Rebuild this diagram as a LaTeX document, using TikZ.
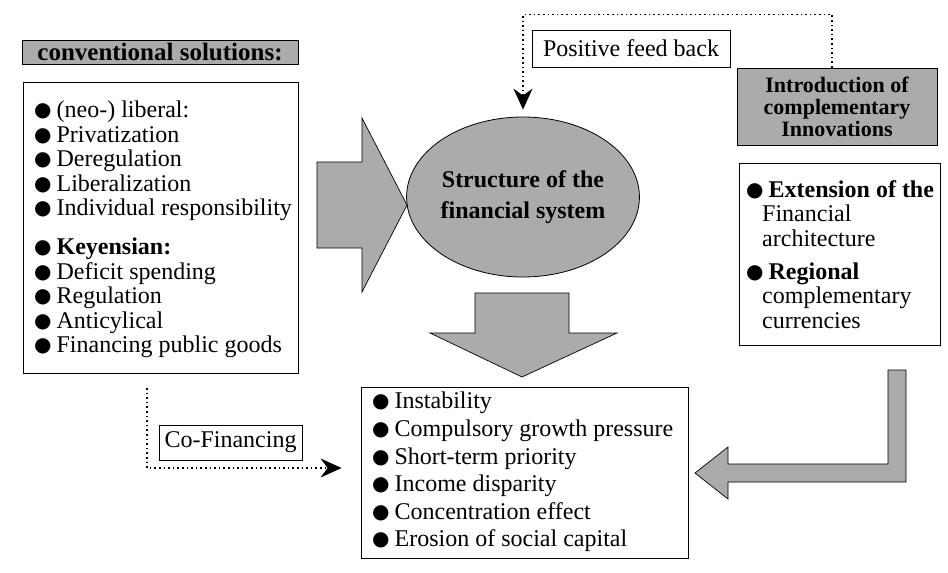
\documentclass[tikz,border=0pt]{standalone}
\usepackage{fontspec}
\setmainfont{Liberation Serif}
\newfontfamily\dejavu{DejaVu Sans}
\usetikzlibrary{arrows.meta,shapes.geometric}
\definecolor{fillg}{gray}{0.67}
\newcommand{\bul}{\raisebox{1pt}{\dejavu\fontsize{20}{20}\selectfont ●}\hspace{5pt}}
\begin{document}
\begin{tikzpicture}[x=1pt,y=-1pt,
  box/.style={draw=black, line width=0.8pt, inner sep=0pt},
  hdr/.style={draw=black, fill=fillg, line width=0.8pt, inner sep=0pt, align=center},
  lbl/.style={draw=black, line width=0.8pt, fill=white, inner sep=0pt,
    font=\fontsize{24}{28}\selectfont},
  txt/.style={inner sep=0pt, align=left, anchor=north west},
  dotline/.style={line width=1.6pt, dash pattern=on 1.6pt off 3pt},
  blockarrow/.style={draw=black, line width=0.7pt, fill=fillg, line join=miter},
  tip/.style={-{Stealth[length=21pt,width=19pt,inset=7pt]}}
]
\path[use as bounding box] (0,0) rectangle (948,573);

% left column
\node[hdr, minimum width=276pt, minimum height=24pt, font=\bfseries\fontsize{25}{25}\selectfont]
  (lhdr) at (160,52) {conventional solutions:};
\node[box, minimum width=275pt, minimum height=291pt] (lbox) at (160.5,227.5) {};
\node[txt, font=\fontsize{24}{24.5}\selectfont] (ltext) at (34,101)
 {\bul (neo-) liberal:\\
  \bul Privatization\\
  \bul Deregulation\\
  \bul Liberalization\\
  \bul Individual responsibility\\[14.5pt]
  \bul \textbf{Keyensian:}\\
  \bul Deficit spending\\
  \bul Regulation\\
  \bul Anticylical\\
  \bul Financing public goods};

% centre
\node[ellipse, draw=black, line width=0.8pt, fill=fillg, minimum width=216pt, minimum height=160pt,
  inner sep=0pt, align=center, font=\bfseries\fontsize{24}{31}\selectfont] (ell) at (523,197)
  {Structure of the\\financial system};
\node[box, minimum width=327pt, minimum height=171pt] (bbox) at (524.5,472.5) {};
\node[txt, font=\fontsize{24}{27.6}\selectfont] (btext) at (372,392)
 {\bul Instability\\
  \bul Compulsory growth pressure\\
  \bul Short-term priority\\
  \bul Income disparity\\
  \bul Concentration effect\\
  \bul Erosion of social capital};

% right column
\node[hdr, minimum width=200pt, minimum height=77pt, font=\bfseries\fontsize{22}{22}\selectfont]
  (intro) at (837,106.5) {Introduction of\\complementary\\Innovations};
\node[box, minimum width=201pt, minimum height=182pt] (rbox) at (839.5,254) {};
\node[txt, font=\fontsize{24}{24.5}\selectfont] (rtext) at (746,180)
 {\bul \textbf{Extension of the}\\
  \hspace*{16pt}Financial\\
  \hspace*{16pt}architecture\\[8.5pt]
  \bul \textbf{Regional}\\
  \hspace*{16pt}complementary\\
  \hspace*{16pt}currencies};

% labels
\node[lbl, minimum width=198pt, minimum height=37pt] (fb) at (631,48.5) {Positive feed back};
\node[lbl, minimum width=143pt, minimum height=35pt] (cf) at (230.5,442.5) {Co-Financing};

% block arrows
\draw[blockarrow] (317,162) -- (362,162) -- (362,118) -- (407,205) -- (362,292) -- (362,248) -- (317,248) -- cycle;
\draw[blockarrow] (475,293) -- (569,293) -- (569,333) -- (617,333) -- (522,377) -- (430,333) -- (475,333) -- cycle;
\draw[blockarrow] (695,473) -- (728,447) -- (728,464) -- (888,464) -- (888,370) -- (906,370) -- (906,482) -- (728,482) -- (728,499) -- cycle;

% dotted connectors
\draw[dotline, tip, shorten >=7pt] ([xshift=-5pt]intro.north) -- ++(0,-53) -| (ell.north);
\coordinate (cfs) at (147,388);
\draw[dotline, tip, shorten >=19pt] (cfs) |- ([yshift=4.5pt]bbox.west);
\end{tikzpicture}
\end{document}
